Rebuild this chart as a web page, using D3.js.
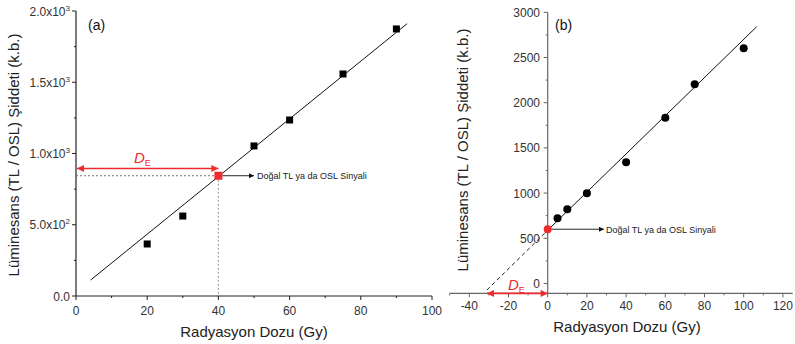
<!DOCTYPE html>
<html><head><meta charset="utf-8">
<script src="https://cdn.jsdelivr.net/npm/d3@7"></script>
<style>body{margin:0;background:#fff}svg{display:block;font-family:"Liberation Sans",Arial,sans-serif}</style>
</head><body>
<svg id="c" width="795" height="344"></svg>
<script>
// Panel (a) data
const doseA = [20, 30, 50, 60, 75, 90];
const sigA = [365, 561, 1053, 1235, 1558, 1874];
const naturalA = {dose: 40, sig: 844};
const fitA = [[4.1, 112], [93, 1911]];
const deArrowA = 895;
const yTicksA = [0, 500, 1000, 1500, 2000];
const yTickLabelsA = [["0.0", ""], ["5.0x10", "2"], ["1.0x10", "3"], ["1.5x10", "3"], ["2.0x10", "3"]];
const xTicksA = [0, 20, 40, 60, 80, 100];

// Panel (b) data
const doseB = [5, 10, 20, 40, 60, 75, 100];
const sigB = [721, 821, 998, 1341, 1834, 2203, 2602];
const naturalB = {dose: 0, sig: 600};
const fitBSolid = [[-1.4, 559], [106.6, 2840]];
const fitBDashed = [[-31, -72], [-1.4, 559]];
const deB = -31;
const yTicksB = [0, 500, 1000, 1500, 2000, 2500, 3000];
const xTicksB = [-40, -20, 0, 20, 40, 60, 80, 100, 120];

const annot = "Doğal TL ya da OSL Sinyali";
const yTitle = "Lüminesans (TL / OSL) Şiddeti (k.b.)";
const xTitle = "Radyasyon Dozu (Gy)";

const svg = d3.select("#c");
const red = "#ee2a2f";
const defs = svg.append("defs");
function marker(id, color, w, h) {
  defs.append("marker").attr("id", id).attr("viewBox", "0 0 10 10").attr("refX", 10).attr("refY", 5)
    .attr("markerWidth", w).attr("markerHeight", h).attr("orient", "auto-start-reverse").attr("markerUnits", "userSpaceOnUse")
    .append("path").attr("d", "M0,0L10,5L0,10Z").attr("fill", color);
}
marker("ar", red, 9, 7);
marker("ab", "#111", 8, 5);

// ---------- Panel (a)
const xA = d3.scaleLinear().domain([0, 100]).range([76, 432]);
const yA = d3.scaleLinear().domain([0, 2000]).range([296, 11]);
const gA = svg.append("g");

// axes
const axColA = "#222";
gA.append("line").attr("x1", xA(0)).attr("x2", xA(100)).attr("y1", yA(0)).attr("y2", yA(0)).attr("stroke", axColA).attr("stroke-width", 1.2);
gA.append("line").attr("x1", xA(0)).attr("x2", xA(0)).attr("y1", yA(0)).attr("y2", yA(2000)).attr("stroke", axColA).attr("stroke-width", 1.2);
// x ticks
xTicksA.forEach(v => {
  gA.append("line").attr("x1", xA(v)).attr("x2", xA(v)).attr("y1", yA(0)).attr("y2", yA(0) + 4).attr("stroke", axColA);
  gA.append("text").attr("x", xA(v)).attr("y", 315).attr("text-anchor", "middle").attr("font-size", 12).attr("fill", "#333").text(v);
});
d3.range(10, 100, 20).forEach(v => {
  gA.append("line").attr("x1", xA(v)).attr("x2", xA(v)).attr("y1", yA(0)).attr("y2", yA(0) + 2).attr("stroke", axColA);
});
// y ticks
yTicksA.forEach((v, i) => {
  gA.append("line").attr("x1", xA(0) - 4).attr("x2", xA(0)).attr("y1", yA(v)).attr("y2", yA(v)).attr("stroke", axColA);
  const t = gA.append("text").attr("x", 70).attr("y", yA(v) + 4.5).attr("text-anchor", "end").attr("font-size", 12).attr("fill", "#333");
  t.append("tspan").text(yTickLabelsA[i][0]);
  if (yTickLabelsA[i][1]) t.append("tspan").attr("font-size", 8).attr("dy", -5).text(yTickLabelsA[i][1]);
});
d3.range(250, 2000, 500).forEach(v => {
  gA.append("line").attr("x1", xA(0) - 2).attr("x2", xA(0)).attr("y1", yA(v)).attr("y2", yA(v)).attr("stroke", axColA);
});

// fit line
gA.append("line").attr("x1", xA(fitA[0][0])).attr("y1", yA(fitA[0][1])).attr("x2", xA(fitA[1][0])).attr("y2", yA(fitA[1][1]))
  .attr("stroke", "#111").attr("stroke-width", 1);
// dotted guides
gA.append("line").attr("x1", xA(0)).attr("x2", xA(naturalA.dose)).attr("y1", yA(naturalA.sig)).attr("y2", yA(naturalA.sig))
  .attr("stroke", "#555").attr("stroke-width", 0.8).attr("stroke-dasharray", "2,2");
gA.append("line").attr("x1", xA(naturalA.dose)).attr("x2", xA(naturalA.dose)).attr("y1", yA(naturalA.sig)).attr("y2", yA(0))
  .attr("stroke", "#777").attr("stroke-width", 0.8).attr("stroke-dasharray", "2,2");
// DE arrow
gA.append("line").attr("x1", xA(0) + 1).attr("x2", xA(naturalA.dose)).attr("y1", yA(deArrowA)).attr("y2", yA(deArrowA))
  .attr("stroke", red).attr("stroke-width", 1.6).attr("marker-start", "url(#ar)").attr("marker-end", "url(#ar)");
const deA = gA.append("text").attr("x", 134).attr("y", 163).attr("fill", red).attr("font-size", 15);
deA.append("tspan").attr("font-style", "italic").text("D");
deA.append("tspan").attr("font-size", 9).attr("dy", 3).text("E");
// points
gA.selectAll("rect.pt").data(doseA).join("rect").attr("class", "pt")
  .attr("x", (d) => xA(d) - 3.5).attr("y", (d, i) => yA(sigA[i]) - 3.5).attr("width", 7).attr("height", 7).attr("fill", "#000");
gA.append("rect").attr("x", xA(naturalA.dose) - 4).attr("y", yA(naturalA.sig) - 4).attr("width", 8).attr("height", 8).attr("fill", red);
// annotation
gA.append("line").attr("x1", xA(naturalA.dose) + 4).attr("x2", 254).attr("y1", yA(naturalA.sig)).attr("y2", yA(naturalA.sig))
  .attr("stroke", "#111").attr("stroke-width", 0.9).attr("marker-end", "url(#ab)");
gA.append("text").attr("x", 257).attr("y", yA(naturalA.sig) + 3.5).attr("font-size", 9).attr("fill", "#222").text(annot);
gA.append("text").attr("x", 88).attr("y", 30).attr("font-size", 14).attr("fill", "#111").text("(a)");
// titles
gA.append("text").attr("transform", `translate(19,155) rotate(-90)`).attr("text-anchor", "middle").attr("font-size", 15).attr("fill", "#222").text(yTitle);
gA.append("text").attr("x", 254).attr("y", 337).attr("text-anchor", "middle").attr("font-size", 15).attr("fill", "#222").text(xTitle);

// ---------- Panel (b)
const xB = d3.scaleLinear().domain([-50, 125]).range([449.7, 792.7]);
const yB = d3.scaleLinear().domain([-110, 3000]).range([293.4, 12.3]);
const gB = svg.append("g");
const axColB = "#666";
gB.append("line").attr("x1", xB(-50)).attr("x2", xB(125)).attr("y1", yB(-110)).attr("y2", yB(-110)).attr("stroke", axColB).attr("stroke-width", 1.2);
gB.append("line").attr("x1", xB(0)).attr("x2", xB(0)).attr("y1", yB(-110)).attr("y2", yB(3000)).attr("stroke", axColB).attr("stroke-width", 1.2);
xTicksB.forEach(v => {
  gB.append("line").attr("x1", xB(v)).attr("x2", xB(v)).attr("y1", yB(-110)).attr("y2", yB(-110) + 4).attr("stroke", axColB);
  gB.append("text").attr("x", xB(v)).attr("y", 310).attr("text-anchor", "middle").attr("font-size", 12).attr("fill", "#333").text(v);
});
d3.range(-50, 130, 20).forEach(v => {
  gB.append("line").attr("x1", xB(v)).attr("x2", xB(v)).attr("y1", yB(-110)).attr("y2", yB(-110) + 2).attr("stroke", axColB);
});
yTicksB.forEach(v => {
  gB.append("line").attr("x1", xB(0) - 4).attr("x2", xB(0)).attr("y1", yB(v)).attr("y2", yB(v)).attr("stroke", axColB);
  gB.append("text").attr("x", 540).attr("y", yB(v) + 4.5).attr("text-anchor", "end").attr("font-size", 12).attr("fill", "#333").text(v);
});
d3.range(250, 3000, 500).forEach(v => {
  gB.append("line").attr("x1", xB(0) - 2).attr("x2", xB(0)).attr("y1", yB(v)).attr("y2", yB(v)).attr("stroke", axColB);
});
// fit lines
gB.append("line").attr("x1", xB(fitBSolid[0][0])).attr("y1", yB(fitBSolid[0][1])).attr("x2", xB(fitBSolid[1][0])).attr("y2", yB(fitBSolid[1][1]))
  .attr("stroke", "#111").attr("stroke-width", 1);
gB.append("line").attr("x1", xB(fitBDashed[0][0])).attr("y1", yB(fitBDashed[0][1])).attr("x2", xB(fitBDashed[1][0])).attr("y2", yB(fitBDashed[1][1]))
  .attr("stroke", "#222").attr("stroke-width", 1).attr("stroke-dasharray", "4,3");
// DE arrow on x axis
gB.append("line").attr("x1", xB(deB)).attr("x2", xB(0)).attr("y1", yB(-110)).attr("y2", yB(-110))
  .attr("stroke", red).attr("stroke-width", 1.8).attr("marker-start", "url(#ar)").attr("marker-end", "url(#ar)");
const deBt = gB.append("text").attr("x", 508).attr("y", 290).attr("fill", red).attr("font-size", 15);
deBt.append("tspan").attr("font-style", "italic").text("D");
deBt.append("tspan").attr("font-size", 9).attr("dy", 3).text("E");
// points
gB.selectAll("circle.pt").data(doseB).join("circle").attr("class", "pt")
  .attr("cx", d => xB(d)).attr("cy", (d, i) => yB(sigB[i])).attr("r", 4).attr("fill", "#000");
gB.append("circle").attr("cx", xB(naturalB.dose)).attr("cy", yB(naturalB.sig)).attr("r", 4).attr("fill", red);
// annotation
gB.append("line").attr("x1", xB(0) + 4).attr("x2", 604).attr("y1", yB(naturalB.sig)).attr("y2", yB(naturalB.sig))
  .attr("stroke", "#111").attr("stroke-width", 0.9).attr("marker-end", "url(#ab)");
gB.append("text").attr("x", 606).attr("y", yB(naturalB.sig) + 3.5).attr("font-size", 9).attr("fill", "#222").text(annot);
gB.append("text").attr("x", 555).attr("y", 30).attr("font-size", 14).attr("fill", "#111").text("(b)");
gB.append("text").attr("transform", `translate(468,150) rotate(-90)`).attr("text-anchor", "middle").attr("font-size", 15).attr("fill", "#222").text(yTitle);
gB.append("text").attr("x", 627).attr("y", 332).attr("text-anchor", "middle").attr("font-size", 15).attr("fill", "#222").text(xTitle);
</script>
</body></html>
